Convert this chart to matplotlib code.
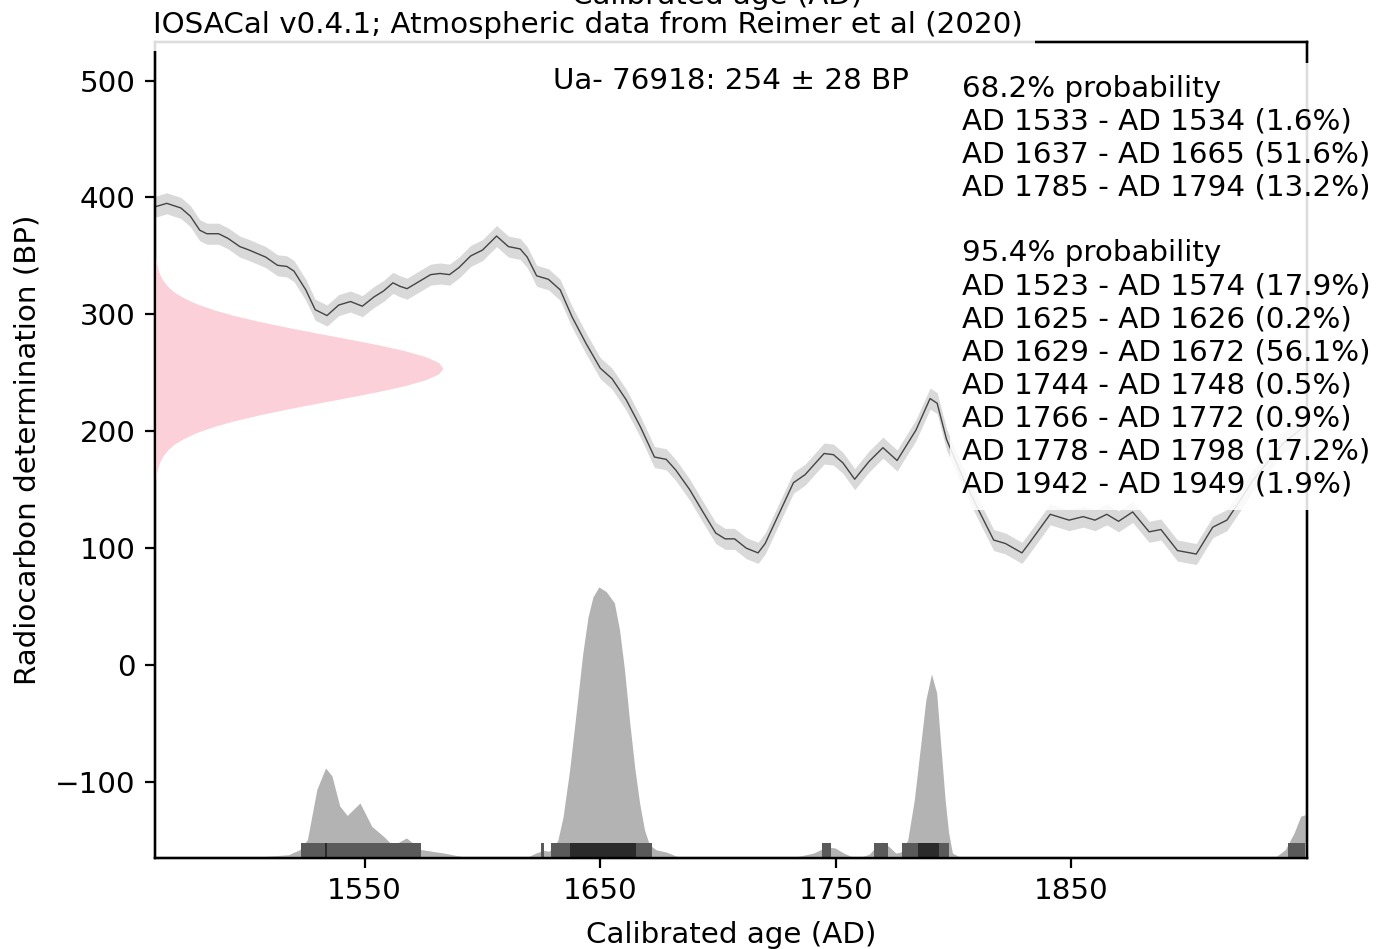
import numpy as np
import matplotlib
matplotlib.use("Agg")
from matplotlib import pyplot as plt

# calibration curve (IntCal20 atmospheric)
curve_year = [1461, 1466, 1472, 1476, 1480, 1483, 1488, 1492, 1497, 1501,
              1508, 1513, 1517, 1520, 1525, 1529, 1534, 1539, 1544, 1549,
              1554, 1558, 1562, 1565, 1568, 1573, 1578, 1582, 1586, 1590,
              1595, 1600, 1606, 1611, 1616, 1619, 1623, 1628, 1633, 1638,
              1644, 1650, 1655, 1661, 1667, 1673, 1678, 1682, 1688, 1693,
              1699, 1703, 1707, 1712, 1717, 1720, 1726, 1732, 1737, 1745,
              1749, 1753, 1758, 1764, 1770, 1776, 1784, 1790, 1793, 1797,
              1804, 1811, 1817, 1822, 1829, 1832, 1841, 1849, 1855, 1860,
              1865, 1870, 1876, 1883, 1888, 1895, 1903, 1910, 1916, 1921,
              1927, 1933, 1940, 1950]
curve_bp = [392, 395, 391, 384, 372, 369, 369, 365, 358, 355,
            349, 342, 341, 337, 321, 304, 299, 308, 311, 307,
            315, 320, 327, 324, 322, 328, 334, 335, 334, 340,
            350, 355, 367, 358, 356, 349, 333, 330, 321, 298,
            275, 254, 245, 227, 204, 178, 176, 167, 150, 133,
            113, 108, 108, 100, 96, 104, 130, 156, 163, 181,
            180, 173, 159, 174, 186, 175, 201, 228, 224, 193,
            160, 131, 107, 104, 96, 104, 129, 124, 127, 124,
            129, 123, 131, 114, 116, 98, 95, 118, 124, 139,
            158, 173, 190, 206]
curve_err = 9

# radiocarbon determination Ua-76918: 254 +/- 28 BP (relative density)
det_bp = [159, 164, 169, 174, 179, 184, 189, 194, 199, 204, 209, 214, 219,
          224, 229, 234, 239, 244, 249, 254, 259, 264, 269, 274, 279, 284,
          289, 294, 299, 304, 309, 314, 319, 324, 329, 334, 339, 344, 349]
det_dens = [0.003, 0.006, 0.010, 0.017, 0.028, 0.044, 0.067, 0.101, 0.145,
            0.203, 0.275, 0.361, 0.458, 0.563, 0.671, 0.775, 0.866, 0.938,
            0.984, 1.000, 0.984, 0.938, 0.866, 0.775, 0.671, 0.563, 0.458,
            0.361, 0.275, 0.203, 0.145, 0.101, 0.067, 0.044, 0.028, 0.017,
            0.010, 0.006, 0.003]

# calibrated probability (percent of maximum)
cal_year = [1461, 1500, 1508, 1517.6, 1522.5, 1525.7, 1529.7, 1533.4, 1536.1,
            1539.4, 1542.6, 1548, 1553, 1558, 1562, 1567.7, 1574, 1583.8,
            1592, 1600, 1615, 1619.3, 1622.6, 1625.8, 1628.2, 1630.6, 1632,
            1634.2, 1637, 1639.9, 1642.6, 1644.8, 1646.9, 1649.4, 1652.6,
            1656, 1658.2, 1660.3, 1662.4, 1664.6, 1666.7, 1668.8, 1670.9,
            1673.8, 1678, 1682.3, 1684, 1728, 1733, 1740.5, 1746, 1749.7,
            1753.4, 1757, 1760, 1764.2, 1767.7, 1769.9, 1772.7, 1775.5,
            1777.6, 1780.5, 1783.3, 1786.1, 1788.2, 1790.6, 1792.8, 1794.6,
            1796.4, 1797.9, 1799.5, 1803.4, 1925, 1927.8, 1937, 1940.8,
            1944.5, 1947.3, 1950]
cal_prob = [0, 0, 0.6, 1.2, 3.1, 6.8, 25.3, 33.2, 30.3,
            19.2, 15.7, 20.3, 11.7, 8.0, 4.6, 7.4, 3.1, 1.8,
            0.4, 0, 0, 0.4, 1.8, 2.8, 2.5, 4.3, 6.6,
            15.1, 32.5, 54.6, 75.6, 88.9, 96.3, 100, 98.2,
            94.1, 84.1, 69.4, 50.9, 33.6, 20.3, 10.3, 4.8,
            3.0, 2.2, 0.7, 0, 0, 0.4, 1.8, 4.1, 3.7,
            1.8, 0.4, 0.2, 1.4, 4.8, 5.9, 4.1, 1.8,
            2.2, 6.6, 21.4, 42.4, 58.3, 67.9, 60.9, 41.0,
            21.4, 9.2, 1.8, 0, 0, 0.4, 0.6, 3.1,
            9.2, 15.4, 16.2]

int68 = [(1533, 1534), (1637, 1665), (1785, 1794)]
int95 = [(1523, 1574), (1625, 1626), (1629, 1672), (1744, 1748),
         (1766, 1772), (1778, 1798), (1942, 1949)]

label68 = ["AD 1533 - AD 1534 (1.6%)", "AD 1637 - AD 1665 (51.6%)",
           "AD 1785 - AD 1794 (13.2%)"]
label95 = ["AD 1523 - AD 1574 (17.9%)", "AD 1625 - AD 1626 (0.2%)",
           "AD 1629 - AD 1672 (56.1%)", "AD 1744 - AD 1748 (0.5%)",
           "AD 1766 - AD 1772 (0.9%)", "AD 1778 - AD 1798 (17.2%)",
           "AD 1942 - AD 1949 (1.9%)"]

plt.rcParams['font.size'] = 10.6
plt.rcParams['font.family'] = ['DejaVu Sans']

W, H = 1391, 949
fig = plt.figure(figsize=(W / 200, H / 200), dpi=200)
ax = fig.add_axes([155 / W, 1 - 858 / H, (1307 - 155) / W, (858 - 42) / H])

yr = np.array(curve_year)
bp = np.array(curve_bp)
ax.fill_between(yr, bp - curve_err, bp + curve_err, color='#d9d9d9', lw=0)
ax.plot(yr, bp, color='#444444', lw=0.5)
ax.set_xlim(1461, 1950)
ax.set_ylim(-165, 533)
ax.set_xticks([1550, 1650, 1750, 1850])
ax.set_yticks([-100, 0, 100, 200, 300, 400, 500])
ax.set_xlabel("Calibrated age (AD)", labelpad=5.5)
ax.set_ylabel("Radiocarbon determination (BP)", labelpad=5)

# calibrated distribution and intervals
ax2 = ax.twinx()
ax2.fill_between(cal_year, 0, cal_prob, color='#b3b3b3', lw=0)
ax2.broken_barh([(a, b - a) for a, b in int95], (0, 5.5), facecolor='#5a5a5a')
ax2.broken_barh([(a, b - a) for a, b in int68], (0, 5.5), facecolor='#2b2b2b')
ax2.set_ylim(0, 301)
ax2.set_yticks([])

# radiocarbon determination
ax3 = ax.twiny()
ax3.fill_betweenx(det_bp, 0, det_dens, color='#fbd0d8', lw=0)
ax3.set_xlim(0, 4.0)
ax3.set_xticks([])

box = dict(boxstyle='square,pad=0.4', fc='white', ec='none', alpha=0.87)
fig.text(153 / W, 1 - 33 / H,
         "IOSACal v0.4.1; Atmospheric data from Reimer et al (2020)",
         ha='left', va='baseline', bbox=box, zorder=3)
fig.text(717 / W, 1 - 4 / H, "Calibrated age (AD)", ha='center',
         va='baseline', zorder=5)
fig.text(731 / W, 1 - 89 / H, "Ua- 76918: 254 \u00b1 28 BP",
         ha='center', va='baseline')
txt = "68.2% probability\n" + "\n".join(label68) + "\n\n95.4% probability\n" + "\n".join(label95)
fig.text(962 / W, 1 - 492 / H, txt, ha='left', va='baseline',
         linespacing=1.225, bbox=box)

fig.savefig("out.png", dpi=200)
